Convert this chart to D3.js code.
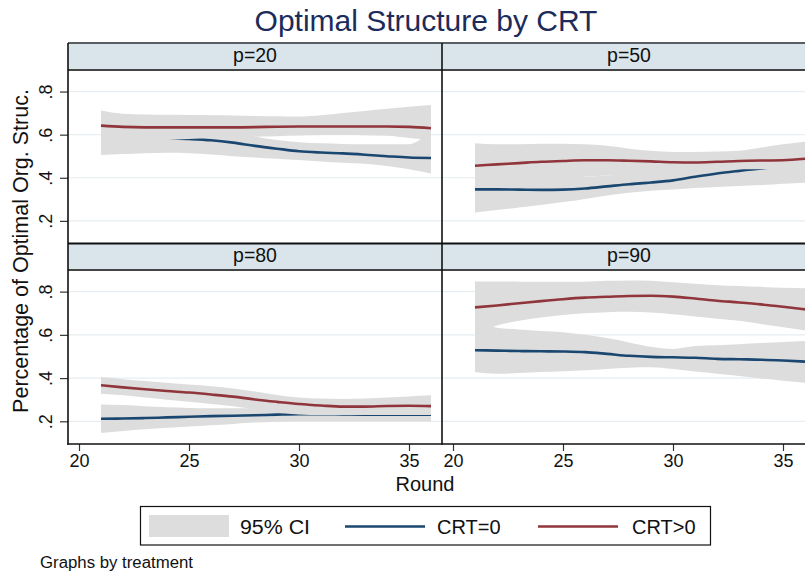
<!DOCTYPE html>
<html><head><meta charset="utf-8">
<script src="https://cdn.jsdelivr.net/npm/d3@7"></script>
<style>body{margin:0;background:#fff}svg{display:block;font-family:"Liberation Sans",Arial,sans-serif}</style>
</head><body><svg id="c" width="805" height="573"></svg>
<script>
// ---------------- data ----------------
const rounds = [21,22,23,24,25,26,27,28,29,30,31,32,33,34,35,36];
const panelLabels = ["p=20","p=50","p=80","p=90"];
const yTicks = [0.2,0.4,0.6,0.8];
const yTickLabels = [".2",".4",".6",".8"];
const xTicks = [20,25,30,35];
const seriesNames = ["CRT=0","CRT>0"];

// p=20
const p20_crt0_fit = [.595,.592,.588,.584,.58,.574,.563,.548,.535,.523,.517,.513,.507,.500,.494,.492];
const p20_crt0_lo  = [.506,.51,.514,.516,.514,.508,.50,.494,.488,.482,.476,.47,.465,.455,.44,.42];
const p20_crt0_hi  = [.69,.675,.66,.645,.632,.62,.607,.592,.575,.565,.56,.557,.555,.555,.556,.62];
const p20_crt1_fit = [.642,.636,.634,.634,.634,.634,.634,.635,.637,.638,.638,.638,.638,.638,.636,.630];
const p20_crt1_lo  = [.56,.565,.57,.575,.58,.585,.588,.59,.593,.596,.598,.598,.597,.595,.585,.575];
const p20_crt1_hi  = [.712,.697,.693,.692,.691,.69,.689,.687,.685,.684,.69,.70,.71,.72,.73,.738];
// p=50
const p50_crt0_fit = [.346,.346,.345,.344,.345,.35,.36,.37,.378,.388,.405,.42,.432,.443,.452,.458];
const p50_crt0_lo  = [.239,.25,.262,.274,.287,.302,.318,.33,.34,.346,.352,.357,.362,.366,.372,.377];
const p50_crt0_hi  = [.45,.44,.43,.42,.41,.405,.41,.42,.43,.44,.46,.475,.49,.51,.525,.54];
const p50_crt1_fit = [.456,.462,.468,.474,.478,.481,.481,.479,.476,.472,.471,.474,.478,.480,.481,.488];
const p50_crt1_lo  = [.365,.375,.385,.395,.40,.405,.41,.415,.42,.425,.43,.438,.44,.44,.43,.42];
const p50_crt1_hi  = [.56,.555,.555,.558,.558,.555,.548,.535,.525,.52,.52,.522,.525,.54,.555,.567];
// p=80
const p80_crt0_fit = [.212,.213,.215,.218,.221,.224,.226,.228,.231,.233,.233,.232,.231,.231,.231,.231];
const p80_crt0_lo  = [.146,.155,.163,.17,.176,.182,.188,.194,.198,.2,.2,.2,.2,.2,.2,.2];
const p80_crt0_hi  = [.278,.275,.27,.265,.262,.26,.26,.26,.26,.26,.26,.26,.26,.26,.26,.26];
const p80_crt1_fit = [.367,.357,.348,.34,.333,.324,.314,.301,.29,.28,.273,.268,.268,.271,.272,.27];
const p80_crt1_lo  = [.327,.32,.31,.30,.29,.28,.27,.255,.24,.232,.229,.229,.229,.229,.229,.229];
const p80_crt1_hi  = [.405,.395,.387,.378,.37,.362,.352,.338,.322,.31,.305,.303,.305,.31,.315,.32];
// p=90
const p90_crt0_fit = [.529,.527,.525,.524,.523,.52,.512,.503,.498,.496,.494,.489,.487,.485,.481,.476];
const p90_crt0_lo  = [.428,.42,.423,.428,.432,.436,.442,.448,.45,.442,.43,.42,.41,.398,.388,.378];
const p90_crt0_hi  = [.66,.633,.625,.618,.612,.60,.585,.565,.545,.535,.548,.552,.557,.562,.567,.572];
const p90_crt1_fit = [.727,.736,.746,.756,.765,.772,.776,.78,.781,.777,.768,.758,.75,.741,.73,.718];
const p90_crt1_lo  = [.60,.643,.665,.68,.692,.70,.705,.707,.703,.695,.685,.675,.665,.65,.635,.62];
const p90_crt1_hi  = [.847,.847,.846,.846,.846,.846,.85,.852,.85,.843,.836,.83,.826,.822,.818,.816];

const panelData = [
  [[p20_crt0_fit,p20_crt0_lo,p20_crt0_hi],[p20_crt1_fit,p20_crt1_lo,p20_crt1_hi]],
  [[p50_crt0_fit,p50_crt0_lo,p50_crt0_hi],[p50_crt1_fit,p50_crt1_lo,p50_crt1_hi]],
  [[p80_crt0_fit,p80_crt0_lo,p80_crt0_hi],[p80_crt1_fit,p80_crt1_lo,p80_crt1_hi]],
  [[p90_crt0_fit,p90_crt0_lo,p90_crt0_hi],[p90_crt1_fit,p90_crt1_lo,p90_crt1_hi]]
];

// ---------------- layout / style ----------------
const svg = d3.select("#c");
const colors = ["#1a476f","#90353b"];
const bandFill = "#dddddd";
const stripFill = "#d9e5ea";
const colX = [[68,442],[442,816]];
const rowStrip = [[43,70],[243.5,270]];
const rowPlot = [[70,243.5],[270,444]];
const xDomain = [19.5,36.5];
const yDomain = [0.095,0.9];

svg.append("rect").attr("width",805).attr("height",573).attr("fill","#fff");

// title
svg.append("text").attr("x",426).attr("y",31).attr("text-anchor","middle")
  .attr("font-size",30).attr("fill","#1c2b5a").text("Optimal Structure by CRT");

panelLabels.forEach((lab,i)=>{
  const c = i%2, r = Math.floor(i/2);
  const x = d3.scaleLinear().domain(xDomain).range(colX[c]);
  const y = d3.scaleLinear().domain(yDomain).range([rowPlot[r][1], rowPlot[r][0]]);
  const g = svg.append("g");
  const cid = "clip"+i;
  svg.append("clipPath").attr("id",cid).append("rect")
    .attr("x",colX[c][0]).attr("y",rowPlot[r][0])
    .attr("width",colX[c][1]-colX[c][0]).attr("height",rowPlot[r][1]-rowPlot[r][0]);
  const pg = g.append("g").attr("clip-path",`url(#${cid})`);
  // gridlines
  pg.selectAll("line.grid").data(yTicks).join("line")
    .attr("x1",colX[c][0]).attr("x2",colX[c][1])
    .attr("y1",d=>y(d)).attr("y2",d=>y(d))
    .attr("stroke","#e6eef1").attr("stroke-width",1.2);
  panelData[i].forEach((s,k)=>{
    const [fit,lo,hi] = s;
    const area = d3.area().x((d,j)=>x(rounds[j])).y0((d,j)=>y(lo[j])).y1((d,j)=>y(hi[j]))
      .curve(d3.curveMonotoneX);
    pg.append("path").datum(rounds).attr("d",area).attr("fill",bandFill);
    const line = d3.line().x((d,j)=>x(rounds[j])).y((d,j)=>y(fit[j])).curve(d3.curveMonotoneX);
    pg.append("path").datum(rounds).attr("d",line).attr("fill","none")
      .attr("stroke",colors[k]).attr("stroke-width",2.6);
  });
  // strip
  g.append("rect").attr("x",colX[c][0]).attr("y",rowStrip[r][0])
    .attr("width",colX[c][1]-colX[c][0]).attr("height",rowStrip[r][1]-rowStrip[r][0])
    .attr("fill",stripFill);
  g.append("line").attr("x1",colX[c][0]).attr("x2",colX[c][1])
    .attr("y1",rowStrip[r][0]).attr("y2",rowStrip[r][0])
    .attr("stroke", r===0 ? "#5a5f63" : "#111").attr("stroke-width",2);
  g.append("line").attr("x1",colX[c][0]).attr("x2",colX[c][1])
    .attr("y1",rowStrip[r][1]).attr("y2",rowStrip[r][1])
    .attr("stroke","#444").attr("stroke-width",2);
  g.append("text").attr("x",(colX[c][0]+colX[c][1])/2).attr("y",rowStrip[r][0]+18.5)
    .attr("text-anchor","middle").attr("font-size",19.5).attr("fill","#111").text(lab);
  // y axis for left column
  if(c===0){
    const ya = d3.axisLeft(y).tickValues(yTicks).tickFormat((d,j)=>yTickLabels[j]).tickSize(8).tickSizeOuter(0);
    const ag = g.append("g").attr("transform",`translate(${colX[c][0]},0)`).call(ya);
    ag.select(".domain").remove();
    ag.selectAll(".tick line").attr("stroke","#333").attr("stroke-width",1.2);
    ag.selectAll(".tick text").attr("font-size",18).attr("fill","#111")
      .attr("font-family","Liberation Sans, Arial, sans-serif")
      .attr("x",null).attr("dy",null).attr("text-anchor","middle")
      .attr("transform","translate(-16,0) rotate(-90)");
  }
  if(r===1){
    const xa = d3.axisBottom(x).tickValues(xTicks).tickFormat(d3.format("d")).tickSize(7).tickSizeOuter(0);
    const ag = g.append("g").attr("transform",`translate(0,${rowPlot[r][1]})`).call(xa);
    ag.select(".domain").remove();
    ag.selectAll(".tick line").attr("stroke","#333").attr("stroke-width",1.2);
    ag.selectAll(".tick text").attr("font-size",18).attr("fill","#111")
      .attr("font-family","Liberation Sans, Arial, sans-serif").attr("dy","0.71em").attr("y",10);
  }
});

// frames
const frame = svg.append("g").attr("stroke","#111").attr("stroke-width",1.6).attr("fill","none");
frame.append("line").attr("x1",68).attr("x2",68).attr("y1",43).attr("y2",444.8);
frame.append("line").attr("x1",442).attr("x2",442).attr("y1",43).attr("y2",444.8);
frame.append("line").attr("x1",67.2).attr("x2",805).attr("y1",444).attr("y2",444);

// axis titles
svg.append("text").attr("transform","translate(28,251) rotate(-90)").attr("text-anchor","middle")
  .attr("font-size",21.5).attr("fill","#111").text("Percentage of Optimal Org. Struc.");
svg.append("text").attr("x",425).attr("y",491).attr("text-anchor","middle")
  .attr("font-size",20).attr("fill","#111").text("Round");

// legend
const lg = svg.append("g");
lg.append("rect").attr("x",140.5).attr("y",506.5).attr("width",570).attr("height",38.5)
  .attr("fill","#fff").attr("stroke","#111").attr("stroke-width",1.2);
lg.append("rect").attr("x",149).attr("y",515).attr("width",80).attr("height",22).attr("fill",bandFill);
lg.append("text").attr("x",240).attr("y",534).attr("font-size",20).attr("fill","#111")
  .attr("textLength",70).attr("lengthAdjust","spacingAndGlyphs").text("95% CI");
const legItems = [{x1:345,x2:425,tx:437},{x1:538,x2:618,tx:632}];
legItems.forEach((it,k)=>{
  lg.append("line").attr("x1",it.x1).attr("x2",it.x2).attr("y1",526.5).attr("y2",526.5)
    .attr("stroke",colors[k]).attr("stroke-width",2.6);
  lg.append("text").attr("x",it.tx).attr("y",534).attr("font-size",20).attr("fill","#111").text(seriesNames[k]);
});

svg.append("text").attr("x",40).attr("y",568).attr("font-size",16).attr("fill","#111")
  .attr("textLength",153).attr("lengthAdjust","spacingAndGlyphs").text("Graphs by treatment");
</script></body></html>
